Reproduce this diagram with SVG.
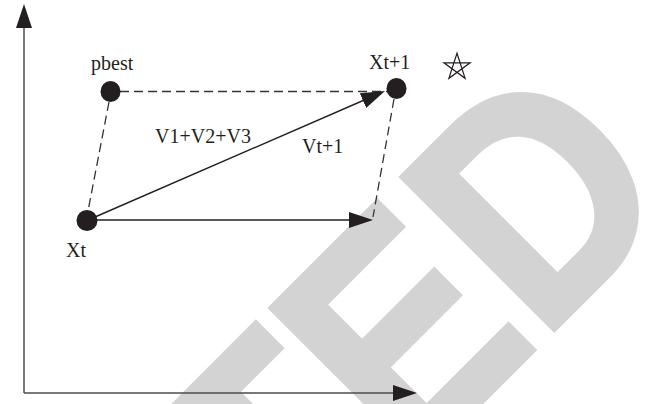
<svg xmlns="http://www.w3.org/2000/svg" width="665" height="404" viewBox="0 0 665 404">
  <style>
    .stamp { font-family: "Liberation Sans", Arial, sans-serif; font-weight: bold; font-size: 312px; fill: #d3d3d3; stroke: #d3d3d3; stroke-width: 6; font-kerning: none; }
    .lbl { font-family: "Liberation Serif", "Times New Roman", serif; font-size: 20px; fill: #231f20; }
    .axis { stroke: #4d4d4d; stroke-width: 1.5; fill: none; }
    .vec { stroke: #231f20; stroke-width: 1.4; fill: none; }
    .dash { stroke: #333333; stroke-width: 1.3; stroke-dasharray: 9 5; fill: none; }
    .pt { fill: #231f20; }
  </style>
  <defs>
    <marker id="head" markerUnits="userSpaceOnUse" viewBox="0 0 24 16" refX="19" refY="8" markerWidth="24" markerHeight="16" orient="auto">
      <path d="M0,0 L24,8 L0,16 Z" fill="#231f20"/>
    </marker>
  </defs>

  <!-- diagonal stamp behind the drawing -->
  <text class="stamp" transform="rotate(-45) scale(0.89 1)" x="383.3" y="624.4" text-anchor="end">RETRACTED</text>

  <!-- coordinate axes -->
  <g id="axes">
    <line class="axis" x1="24" y1="393" x2="24" y2="9" marker-end="url(#head)"/>
    <line class="axis" x1="24" y1="393" x2="412" y2="393" marker-end="url(#head)"/>
  </g>

  <!-- connectors -->
  <g id="connectors">
    <line class="dash" x1="120" y1="91.5" x2="387" y2="91.5"/>
    <line class="dash" x1="109" y1="102" x2="88" y2="211"/>
    <line class="dash" x1="394" y1="99" x2="373" y2="217"/>
    <line class="vec" x1="95" y1="217" x2="380.4" y2="93" marker-end="url(#head)"/>
    <line class="vec" x1="97" y1="220" x2="368" y2="220" marker-end="url(#head)"/>
  </g>

  <!-- points -->
  <g id="pbest">
    <ellipse class="pt" cx="110.5" cy="91.5" rx="10" ry="10.5"/>
    <text class="lbl" x="91" y="70">pbest</text>
  </g>
  <g id="xt1">
    <ellipse class="pt" cx="396.5" cy="88.5" rx="10" ry="10.5"/>
    <text class="lbl" x="369" y="69">Xt+1</text>
  </g>
  <g id="xt">
    <ellipse class="pt" cx="87" cy="220.5" rx="10.5" ry="10.5"/>
    <text class="lbl" x="66" y="257">Xt</text>
  </g>

  <!-- vector labels -->
  <g id="labels">
    <text class="lbl" x="155" y="143">V1+V2+V3</text>
    <text class="lbl" x="302" y="153">Vt+1</text>
  </g>

  <!-- star marker -->
  <g id="star">
    <path d="M457,53.3 L465.1,78.3 L443.9,62.8 L470.1,62.8 L448.9,78.3 Z" fill="none" stroke="#231f20" stroke-width="1.2" stroke-linejoin="miter"/>
  </g>
</svg>
